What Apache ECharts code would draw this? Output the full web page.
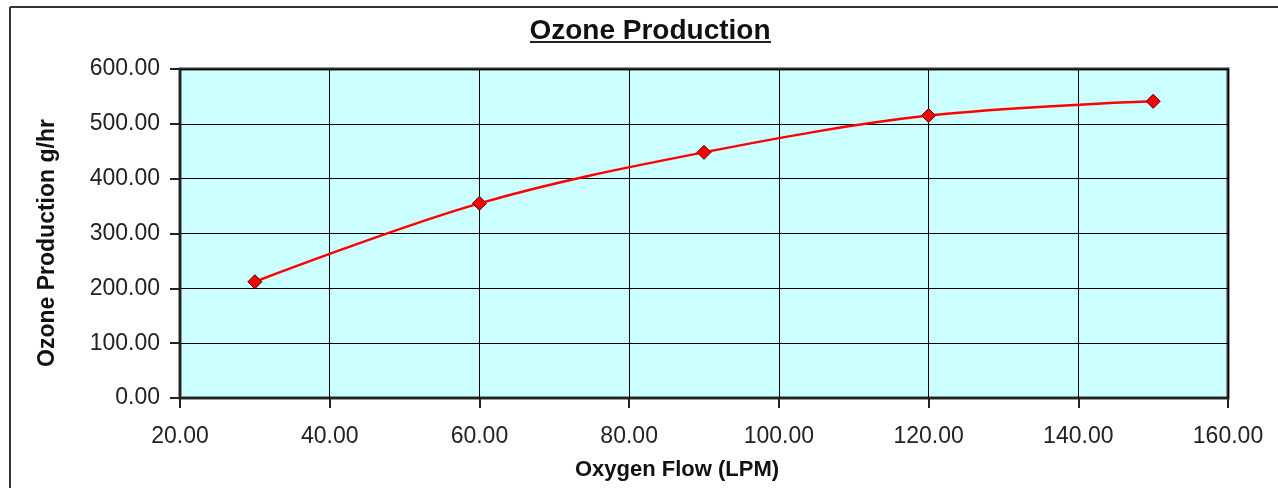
<!DOCTYPE html>
<html><head><meta charset="utf-8">
<script src="https://cdn.jsdelivr.net/npm/echarts@6/dist/echarts.min.js"></script>
<style>html,body{margin:0;padding:0;background:#fff}#c{width:1278px;height:488px}</style>
</head><body><div id="c"></div>
<script>
const flow = [30, 60, 90, 120, 150];
const ozone = [212, 355, 448, 515, 541];
const titleText = 'Ozone Production';
const xName = 'Oxygen Flow (LPM)';
const yName = 'Ozone Production g/hr';

const chart = echarts.init(document.getElementById('c'));
const F = 'Liberation Sans, Arial, sans-serif';
chart.setOption({
  animation: false,
  backgroundColor: '#fff',
  grid: {left: 180, top: 69, width: 1048, height: 329, show: true,
    backgroundColor: '#ccffff', borderColor: '#333', borderWidth: 3},
  xAxis: {
    type: 'value', min: 20, max: 160, interval: 20,
    axisLine: {show: true, lineStyle: {color: '#222', width: 2}},
    axisTick: {show: true, length: 10, lineStyle: {color: '#222', width: 2}},
    axisLabel: {margin: 27, formatter: v => v.toFixed(2), fontFamily: F, fontSize: 23, color: '#222'},
    splitLine: {show: true, lineStyle: {color: '#000', width: 1}}
  },
  yAxis: {
    type: 'value', min: 0, max: 600, interval: 100,
    axisLine: {show: true, lineStyle: {color: '#222', width: 2}},
    axisTick: {show: true, length: 10, lineStyle: {color: '#222', width: 2}},
    axisLabel: {margin: 20, padding: [4, 0, 0, 0], formatter: v => v.toFixed(2), fontFamily: F, fontSize: 23, color: '#222'},
    splitLine: {show: true, lineStyle: {color: '#000', width: 1}}
  },
  series: [{
    type: 'line', data: flow.map((x, i) => [x, ozone[i]]), smooth: 0.35,
    symbol: 'diamond', symbolSize: 14,
    lineStyle: {color: '#ff0000', width: 2.5},
    itemStyle: {color: '#ff0000', borderColor: '#400', borderWidth: 1}
  }],
  graphic: [
    {type: 'line', shape: {x1: 10, y1: 7, x2: 1278, y2: 7}, style: {stroke: '#333', lineWidth: 2}},
    {type: 'line', shape: {x1: 10, y1: 7, x2: 10, y2: 488}, style: {stroke: '#333', lineWidth: 2}},
    {type: 'text', x: 650, y: 31, style: {text: titleText, font: 'bold 28px ' + F, fill: '#111', textAlign: 'center', textVerticalAlign: 'middle'}},
    {type: 'line', shape: {x1: 530, y1: 42, x2: 771, y2: 42}, style: {stroke: '#222', lineWidth: 2}},
    {type: 'text', x: 677, y: 470, style: {text: xName, font: 'bold 22px ' + F, fill: '#111', textAlign: 'center', textVerticalAlign: 'middle'}},
    {type: 'text', x: 48, y: 243, rotation: Math.PI / 2, style: {text: yName, font: 'bold 23px ' + F, fill: '#111', textAlign: 'center', textVerticalAlign: 'middle'}}
  ]
});
</script></body></html>
